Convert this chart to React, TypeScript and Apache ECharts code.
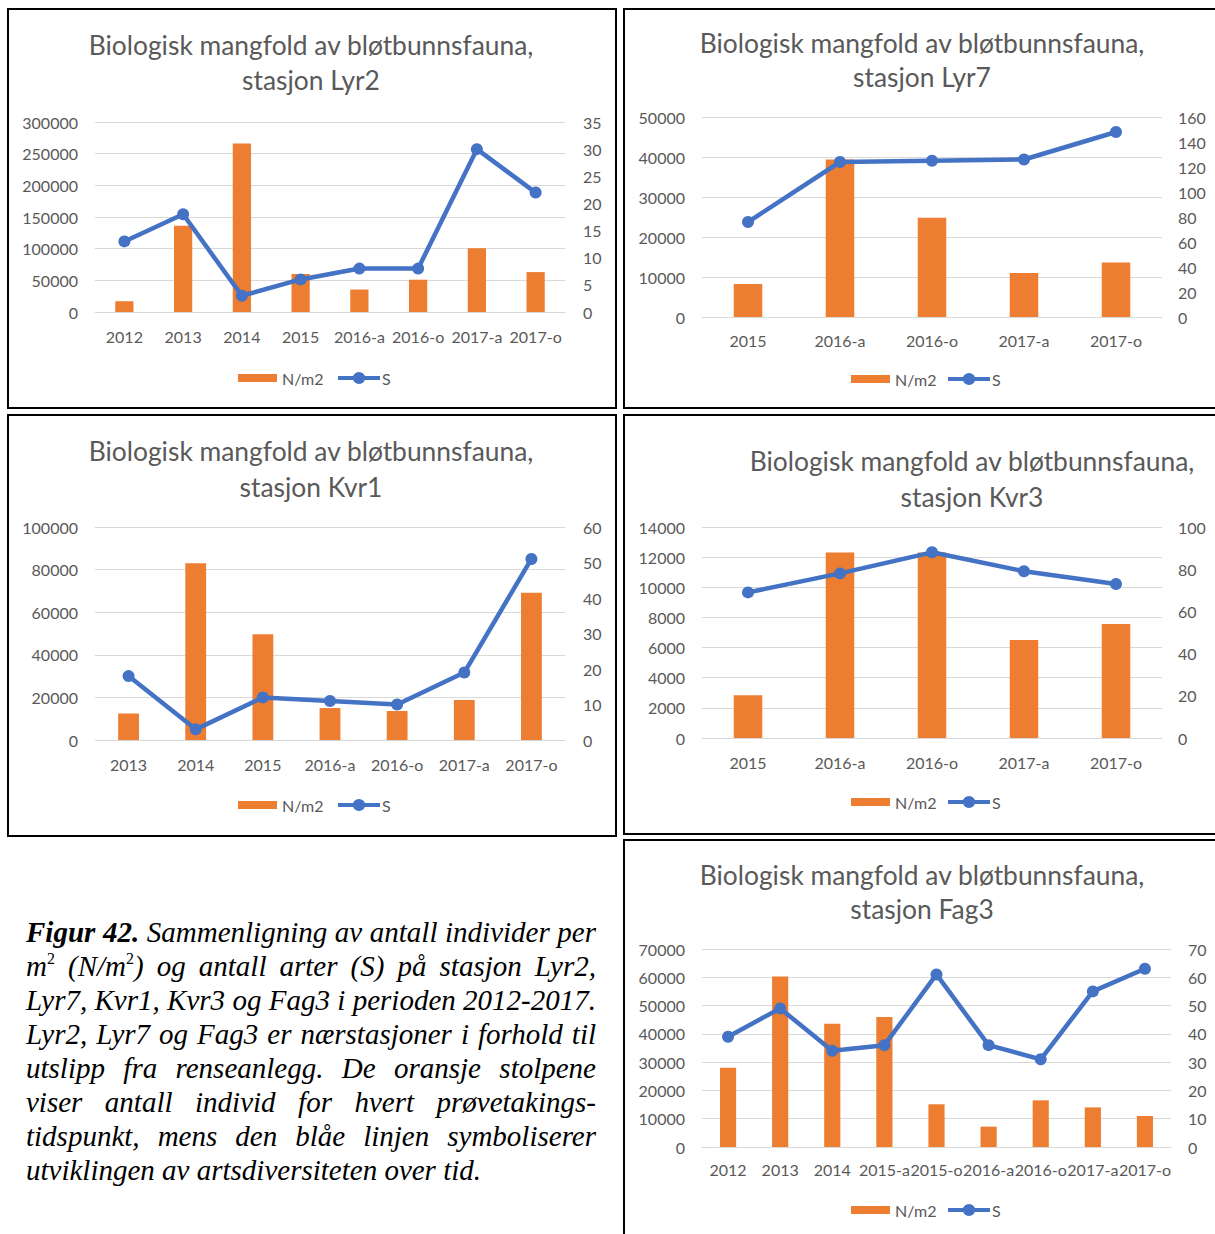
import React, { useEffect, useRef } from 'react';
import * as echarts from 'echarts';

// ---------- Data ----------
const lyr2Cats = ['2012', '2013', '2014', '2015', '2016-a', '2016-o', '2017-a', '2017-o'];
const lyr2N = [17000, 136000, 266000, 60000, 35500, 51000, 100500, 63000];
const lyr2S = [13, 18, 3, 6, 8, 8, 30, 22];

const lyr7Cats = ['2015', '2016-a', '2016-o', '2017-a', '2017-o'];
const lyr7N = [8250, 39400, 24800, 11000, 13600];
const lyr7S = [76, 124, 125, 126, 148];

const kvr1Cats = ['2013', '2014', '2015', '2016-a', '2016-o', '2017-a', '2017-o'];
const kvr1N = [12400, 83000, 49700, 15000, 13600, 18800, 69100];
const kvr1S = [18, 3, 12, 11, 10, 19, 51];

const kvr3Cats = ['2015', '2016-a', '2016-o', '2017-a', '2017-o'];
const kvr3N = [2830, 12300, 12300, 6500, 7570];
const kvr3S = [69, 78, 88, 79, 73];

const fag3Cats = ['2012', '2013', '2014', '2015-a', '2015-o', '2016-a', '2016-o', '2017-a', '2017-o'];
const fag3N = [28000, 60300, 43600, 46000, 15100, 7200, 16500, 14000, 11000];
const fag3S = [39, 49, 34, 36, 61, 36, 31, 55, 63];

const titleLine1 = 'Biologisk mangfold av bløtbunnsfauna,';
const seriesNames = ['N/m2', 'S'];

const FONT = 'Lato, "Open Sans", sans-serif';
const GRAY = '#595959';
const ORANGE = '#ED7D31';
const BLUE = '#4472C4';

// line-with-marker legend icon (40 x 12 box)
const LINE_ICON =
  'path://M0,4H40V8H0Z M14,6A6,6 0 1 1 26,6A6,6 0 1 1 14,6Z';

type Cfg = {
  station: string;
  cats: string[];
  n: number[];
  s: number[];
  leftMax: number;
  leftInt: number;
  rightMax: number;
  rightInt: number;
  grid: { left: number; top: number; width: number; height: number };
  titleX: number;
  titleY1: number;
  titleY2: number;
  legendTop: number;
  legendX1: number;
  legendX2: number;
  xMargin: number;
  rMargin: number;
};

const plain = (v: number) => String(v);

function makeOption(c: Cfg) {
  const legendText = { color: GRAY, fontSize: 16, fontFamily: FONT };
  return {
    animation: false,
    textStyle: { fontFamily: FONT },
    graphic: [
      {
        type: 'text',
        x: c.titleX,
        y: c.titleY1,
        style: { text: titleLine1, fontSize: 26.4, fontFamily: FONT, fill: GRAY, textAlign: 'center', textVerticalAlign: 'middle' },
      },
      {
        type: 'text',
        x: c.titleX,
        y: c.titleY2,
        style: { text: 'stasjon ' + c.station, fontSize: 26.4, fontFamily: FONT, fill: GRAY, textAlign: 'center', textVerticalAlign: 'middle' },
      },
    ],
    legend: [
      {
        data: [{ name: seriesNames[0], icon: 'rect' }],
        top: c.legendTop,
        left: c.legendX1 - 5,
        itemWidth: 39,
        itemHeight: 8,
        textStyle: legendText,
      },
      {
        data: [{ name: seriesNames[1], icon: LINE_ICON }],
        top: c.legendTop,
        left: c.legendX2 - 5,
        itemWidth: 42,
        itemHeight: 12,
        symbolKeepAspect: false,
        itemStyle: { color: BLUE, borderWidth: 0 },
        lineStyle: { width: 0 },
        textStyle: { ...legendText, padding: [0, 0, 0, -3] },
      },
    ],
    grid: { ...c.grid, containLabel: false },
    xAxis: {
      type: 'category',
      data: c.cats,
      axisTick: { show: false },
      axisLine: { lineStyle: { color: '#D9D9D9', width: 1 } },
      axisLabel: { color: GRAY, fontSize: 16, margin: c.xMargin, interval: 0, fontFamily: FONT },
    },
    yAxis: [
      {
        type: 'value',
        min: 0,
        max: c.leftMax,
        interval: c.leftInt,
        axisLine: { show: false },
        axisTick: { show: false },
        splitLine: { lineStyle: { color: '#D9D9D9', width: 1 } },
        axisLabel: { color: GRAY, fontSize: 16, margin: 17, fontFamily: FONT, formatter: plain },
      },
      {
        type: 'value',
        min: 0,
        max: c.rightMax,
        interval: c.rightInt,
        axisLine: { show: false },
        axisTick: { show: false },
        splitLine: { show: false },
        axisLabel: { color: GRAY, fontSize: 16, margin: c.rMargin, fontFamily: FONT, formatter: plain },
      },
    ],
    series: [
      {
        type: 'bar',
        name: seriesNames[0],
        data: c.n,
        barWidth: '31%',
        itemStyle: { color: ORANGE },
      },
      {
        type: 'line',
        name: seriesNames[1],
        yAxisIndex: 1,
        data: c.s,
        symbol: 'circle',
        symbolSize: 12,
        lineStyle: { width: 4.5, color: BLUE },
        itemStyle: { color: BLUE },
      },
    ],
  };
}

function Chart({ cfg, box }: { cfg: Cfg; box: { left: number; top: number; width: number; height: number } }) {
  const ref = useRef<HTMLDivElement>(null);
  useEffect(() => {
    const chart = echarts.init(ref.current as HTMLDivElement, null, { renderer: 'svg' });
    chart.setOption(makeOption(cfg) as any);
    return () => chart.dispose();
  }, []);
  return (
    <div
      style={{
        position: 'absolute',
        left: box.left,
        top: box.top,
        width: box.width,
        height: box.height,
        border: '2px solid #000',
        boxSizing: 'border-box',
        background: '#fff',
      }}
    >
      <div ref={ref} style={{ width: '100%', height: '100%' }} />
    </div>
  );
}

const panels: { cfg: Cfg; box: { left: number; top: number; width: number; height: number } }[] = [
  {
    box: { left: 7, top: 8, width: 610, height: 401 },
    cfg: {
      station: 'Lyr2', cats: lyr2Cats, n: lyr2N, s: lyr2S,
      leftMax: 300000, leftInt: 50000, rightMax: 35, rightInt: 5,
      grid: { left: 86, top: 112, width: 470, height: 190 },
      titleX: 302, titleY1: 35, titleY2: 70, legendTop: 355, legendX1: 229, legendX2: 329,
      xMargin: 16, rMargin: 18,
    },
  },
  {
    box: { left: 623, top: 8, width: 604, height: 401 },
    cfg: {
      station: 'Lyr7', cats: lyr7Cats, n: lyr7N, s: lyr7S,
      leftMax: 50000, leftInt: 10000, rightMax: 160, rightInt: 20,
      grid: { left: 77, top: 107, width: 460, height: 200 },
      titleX: 297, titleY1: 33, titleY2: 67, legendTop: 356, legendX1: 226, legendX2: 323,
      xMargin: 15, rMargin: 16,
    },
  },
  {
    box: { left: 7, top: 414, width: 610, height: 423 },
    cfg: {
      station: 'Kvr1', cats: kvr1Cats, n: kvr1N, s: kvr1S,
      leftMax: 100000, leftInt: 20000, rightMax: 60, rightInt: 10,
      grid: { left: 86, top: 111, width: 470, height: 213 },
      titleX: 302, titleY1: 35, titleY2: 71, legendTop: 376, legendX1: 229, legendX2: 329,
      xMargin: 16, rMargin: 18,
    },
  },
  {
    box: { left: 623, top: 414, width: 604, height: 421 },
    cfg: {
      station: 'Kvr3', cats: kvr3Cats, n: kvr3N, s: kvr3S,
      leftMax: 14000, leftInt: 2000, rightMax: 100, rightInt: 20,
      grid: { left: 77, top: 111, width: 460, height: 211 },
      titleX: 347, titleY1: 45, titleY2: 81, legendTop: 373, legendX1: 226, legendX2: 323,
      xMargin: 16, rMargin: 16,
    },
  },
  {
    box: { left: 623, top: 839, width: 604, height: 400 },
    cfg: {
      station: 'Fag3', cats: fag3Cats, n: fag3N, s: fag3S,
      leftMax: 70000, leftInt: 10000, rightMax: 70, rightInt: 10,
      grid: { left: 77, top: 108, width: 469, height: 198 },
      titleX: 297, titleY1: 34, titleY2: 68, legendTop: 356, legendX1: 226, legendX2: 323,
      xMargin: 14, rMargin: 17,
    },
  },
];

const supStyle: React.CSSProperties = { fontSize: '55%', lineHeight: 0, verticalAlign: '0.75em', fontStyle: 'normal' };

const captionLines: React.ReactNode[] = [
  <>
    <b>Figur 42.</b> Sammenligning av antall individer per
  </>,
  <>
    m<sup style={supStyle}>2</sup> (N/m<sup style={supStyle}>2</sup>) og antall arter (S) på stasjon Lyr2,
  </>,
  <>Lyr7, Kvr1, Kvr3 og Fag3 i perioden 2012-2017.</>,
  <>Lyr2, Lyr7 og Fag3 er nærstasjoner i forhold til</>,
  <>utslipp fra renseanlegg. De oransje stolpene</>,
  <>viser antall individ for hvert prøvetakings-</>,
  <>tidspunkt, mens den blåe linjen symboliserer</>,
  <>utviklingen av artsdiversiteten over tid.</>,
];

export default function App() {
  return (
    <div
      style={{
        position: 'absolute',
        left: 0,
        top: 0,
        width: 1215,
        height: 1234,
        overflow: 'hidden',
        background: '#fff',
      }}
    >
      {panels.map((p, i) => (
        <Chart key={i} cfg={p.cfg} box={p.box} />
      ))}
      <div
        style={{
          position: 'absolute',
          left: 26,
          top: 915,
          width: 570,
          fontFamily: '"Liberation Serif", "Times New Roman", serif',
          fontStyle: 'italic',
          fontSize: 29,
          lineHeight: '34px',
          color: '#000',
        }}
      >
        {captionLines.map((l, i) => (
          <div
            key={i}
            style={{
              textAlign: i === captionLines.length - 1 ? 'left' : 'justify',
              textAlignLast: i === captionLines.length - 1 ? 'left' : 'justify',
              whiteSpace: 'nowrap',
              height: 34,
            }}
          >
            {l}
          </div>
        ))}
      </div>
    </div>
  );
}
